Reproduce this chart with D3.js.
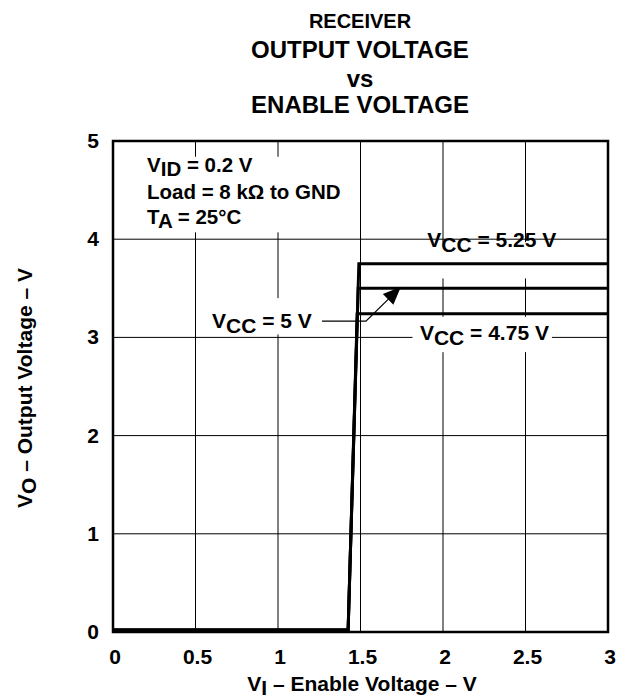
<!DOCTYPE html>
<html><head><meta charset="utf-8">
<script src="https://cdn.jsdelivr.net/npm/d3@7"></script>
<style>
body{margin:0;background:#fff}
text{font-family:"Liberation Sans",Arial,Helvetica,sans-serif;font-weight:bold;fill:#000}
</style>
</head><body>
<svg id="chart" width="618" height="700"></svg>
<script>
// ---- data ----
const titleLines = ["RECEIVER", "OUTPUT VOLTAGE", "vs", "ENABLE VOLTAGE"];
const xTicks = [0, 0.5, 1, 1.5, 2, 2.5, 3];
const xTickLabels = ["0", "0.5", "1", "1.5", "2", "2.5", "3"];
const yTicks = [0, 1, 2, 3, 4, 5];
const yTickLabels = ["0", "1", "2", "3", "4", "5"];

const seriesNames = ["VCC = 4.75 V", "VCC = 5 V", "VCC = 5.25 V"];
const vcc475_x = [0, 1.425, 1.48, 3];
const vcc475_y = [0.02, 0.02, 3.24, 3.24];
const vcc5_x = [0, 1.425, 1.486, 3];
const vcc5_y = [0.02, 0.02, 3.50, 3.50];
const vcc525_x = [0, 1.425, 1.49, 3];
const vcc525_y = [0.02, 0.02, 3.75, 3.75];

const conditions = ["VID = 0.2 V", "Load = 8 kΩ to GND", "TA = 25°C"];

// ---- layout ----
const svg = d3.select("#chart");
const x = d3.scaleLinear().domain([0, 3]).range([113, 608]);
const y = d3.scaleLinear().domain([0, 5]).range([632, 141]);
const FS = 21;

// title
const titleSizes = [20, 24, 24, 24];
const titleY = [28, 58, 87, 113];
titleLines.forEach((t, i) => {
  svg.append("text").attr("x", 360).attr("y", titleY[i])
    .attr("text-anchor", "middle").style("font-size", titleSizes[i] + "px").text(t);
});

// grid
const g = svg.append("g");
g.selectAll(".vg").data(xTicks).enter().append("line")
  .attr("x1", d => x(d)).attr("x2", d => x(d)).attr("y1", y(0)).attr("y2", y(5))
  .attr("stroke", "#000").attr("stroke-width", 1);
g.selectAll(".hg").data(yTicks).enter().append("line")
  .attr("x1", x(0)).attr("x2", x(3)).attr("y1", d => y(d)).attr("y2", d => y(d))
  .attr("stroke", "#000").attr("stroke-width", 1);

// white label backgrounds (in data units)
const boxes = [
  [0.006, 4.84, 1.47, 4.07],   // conditions box
  [1.845, 3.97, 2.70, 3.60],   // 5.25 label
  [1.815, 3.21, 2.66, 2.85],   // 4.75 label
  [0.56, 3.40, 1.26, 3.03]     // 5 V label
];
svg.selectAll(".bx").data(boxes).enter().append("rect")
  .attr("x", d => x(d[0])).attr("y", d => y(d[1]))
  .attr("width", d => x(d[2]) - x(d[0])).attr("height", d => y(d[3]) - y(d[1]))
  .attr("fill", "#fff");

// curves
const line = d3.line().x(d => x(d[0])).y(d => y(d[1]));
const series = [
  d3.zip(vcc475_x, vcc475_y),
  d3.zip(vcc5_x, vcc5_y),
  d3.zip(vcc525_x, vcc525_y)
];
svg.selectAll(".curve").data(series).enter().append("path")
  .attr("d", line).attr("fill", "none").attr("stroke", "#000")
  .attr("stroke-width", 3).attr("stroke-linejoin", "miter");

// frame
svg.append("rect").attr("x", x(0)).attr("y", y(5))
  .attr("width", x(3) - x(0)).attr("height", y(0) - y(5))
  .attr("fill", "none").attr("stroke", "#000").attr("stroke-width", 2.5);

// tick labels
svg.selectAll(".xt").data(xTicks).enter().append("text")
  .attr("x", d => x(d) + 2).attr("y", 664).attr("text-anchor", "middle")
  .style("font-size", FS + "px").text((d, i) => xTickLabels[i]);
svg.selectAll(".yt").data(yTicks).enter().append("text")
  .attr("x", 99).attr("y", d => y(d) + 7).attr("text-anchor", "end")
  .style("font-size", FS + "px").text((d, i) => yTickLabels[i]);

// helper for subscripted text: main + sub + rest
function subText(parent, xp, yp, main, sub, rest, size, anchor, shift) {
  const s = shift || 5;
  const t = parent.append("text").attr("x", xp).attr("y", yp)
    .attr("text-anchor", anchor || "start").style("font-size", size + "px");
  t.append("tspan").text(main);
  t.append("tspan").attr("dy", s).text(sub);
  t.append("tspan").attr("dy", -s).text(rest);
  return t;
}

// axis titles
subText(svg, 362, 691, "V", "I", " – Enable Voltage – V", FS, "middle", 4);
const yl = svg.append("g").attr("transform", "translate(32,388) rotate(-90)");
subText(yl, 0, 0, "V", "O", " – Output Voltage – V", FS, "middle", 4);

// conditions
const CS = 20.5;
subText(svg, 147, 172, "V", "ID", " = 0.2 V", CS, "start", 4);
svg.append("text").attr("x", 147).attr("y", 199).style("font-size", CS + "px").text(conditions[1]);
subText(svg, 147, 224, "T", "A", " = 25°C", CS, "start", 4);

// series labels
subText(svg, x(1.905), y(3.92), "V", "CC", " = 5.25 V", FS);
subText(svg, x(1.86), y(2.97), "V", "CC", " = 4.75 V", FS);
subText(svg, x(0.6), y(3.10), "V", "CC", " = 5 V", FS);

// leader with arrow for 5 V
const leader = [[1.267, 3.165], [1.533, 3.165], [1.70, 3.44]];
svg.append("path").attr("d", d3.line().x(d => x(d[0])).y(d => y(d[1]))(leader))
  .attr("fill", "none").attr("stroke", "#000").attr("stroke-width", 1.2);
// arrowhead
const tip = [x(1.745), y(3.515)];
const from = [x(1.533), y(3.165)];
const ang = Math.atan2(tip[1] - from[1], tip[0] - from[0]);
const L = 18, W = 7.5;
const bx = tip[0] - L * Math.cos(ang), by = tip[1] - L * Math.sin(ang);
const px = -Math.sin(ang), py = Math.cos(ang);
svg.append("path")
  .attr("d", `M${tip[0]},${tip[1]}L${bx + W * px},${by + W * py}L${bx - W * px},${by - W * py}Z`)
  .attr("fill", "#000");
</script>
</body></html>
